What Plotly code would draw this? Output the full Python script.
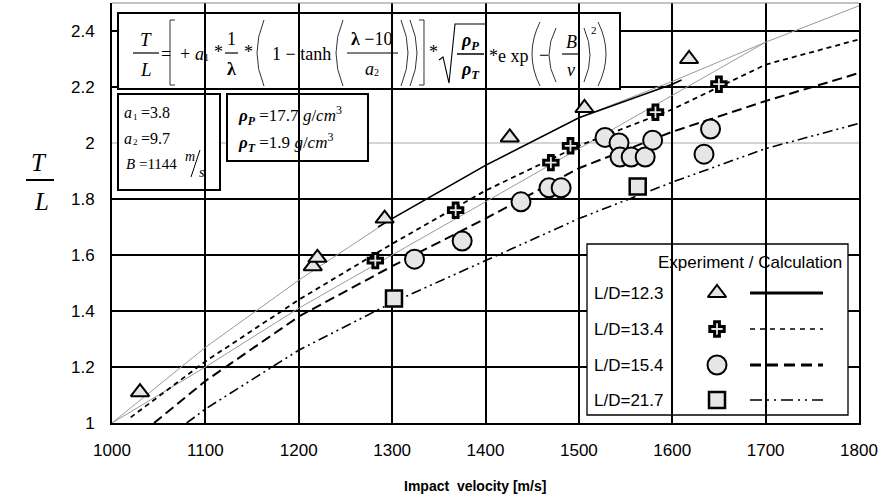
import plotly.graph_objects as go

# ---------------- data ----------------
tri_x = [1030, 1215, 1220, 1292, 1426, 1506, 1618]
tri_y = [1.11, 1.56, 1.59, 1.73, 2.02, 2.125, 2.30]
plus_x = [1282, 1368, 1470, 1491, 1582, 1650]
plus_y = [1.58, 1.76, 1.93, 1.99, 2.11, 2.21]
circ_x = [1324, 1375, 1438, 1468, 1481, 1528, 1543, 1544, 1556, 1571, 1579, 1634, 1641]
circ_y = [1.585, 1.65, 1.79, 1.84, 1.84, 2.02, 2.00, 1.95, 1.95, 1.95, 2.01, 1.96, 2.05]
sq_x = [1302, 1563]
sq_y = [1.445, 1.845]

calc123_x = [1285, 1300, 1400, 1500, 1600, 1610]
calc123_y = [1.70, 1.73, 1.92, 2.09, 2.21, 2.225]
calc134_x = [1020, 1100, 1200, 1300, 1400, 1500, 1600, 1700, 1800]
calc134_y = [1.02, 1.22, 1.44, 1.64, 1.83, 1.99, 2.12, 2.28, 2.37]
calc154_x = [1045, 1100, 1200, 1300, 1400, 1500, 1600, 1700, 1800]
calc154_y = [1.00, 1.15, 1.38, 1.56, 1.73, 1.91, 2.04, 2.15, 2.25]
calc217_x = [1080, 1100, 1200, 1300, 1400, 1500, 1600, 1700, 1800]
calc217_y = [1.00, 1.05, 1.26, 1.43, 1.58, 1.73, 1.86, 1.98, 2.07]
ref_hi_x = [1000, 1100, 1200, 1300, 1400, 1500, 1600, 1700, 1800]
ref_hi_y = [1.00, 1.27, 1.51, 1.73, 1.92, 2.09, 2.22, 2.36, 2.49]
ref_lo_x = [1000, 1100, 1200, 1400, 1600, 1700]
ref_lo_y = [1.00, 1.20, 1.41, 1.79, 2.17, 2.36]

x_ticks = [1000, 1100, 1200, 1300, 1400, 1500, 1600, 1700, 1800]
y_ticks = [1.0, 1.2, 1.4, 1.6, 1.8, 2.0, 2.2, 2.4]
y_ticklabels = ["1", "1.2", "1.4", "1.6", "1.8", "2", "2.2", "2.4"]
y_black_grid = [1.2, 1.4, 1.6, 1.8, 2.2, 2.4]
y_gray_line = 2.0

legend_labels = ["L/D=12.3", "L/D=13.4", "L/D=15.4", "L/D=21.7"]

# ---------------- layout helpers (pixel -> paper) ----------------
W, H = 883, 502
ML, MR, MT, MB = 112, 24, 3, 79
PW, PH = W - ML - MR, H - MT - MB


def PX(x):
    return (x - ML) / PW


def PY(y):
    return (H - MB - y) / PH


SERIF = "Liberation Serif, Times New Roman, serif"
SANS = "Liberation Sans, Arial, sans-serif"
FILL = "#e6e6e6"

fig = go.Figure()

# gray reference curves
fig.add_trace(go.Scatter(x=ref_lo_x, y=ref_lo_y, mode="lines",
                         line=dict(color="#9a9a9a", width=1), showlegend=False))
fig.add_trace(go.Scatter(x=ref_hi_x, y=ref_hi_y, mode="lines",
                         line=dict(color="#9a9a9a", width=1), showlegend=False))

dash134 = "5px,4px"
dash154 = "10px,5px"
dash217 = "10px,4px,2px,4px,2px,4px"

fig.add_trace(go.Scatter(x=calc123_x, y=calc123_y, mode="lines",
                         line=dict(color="black", width=1.6), showlegend=False))
fig.add_trace(go.Scatter(x=calc134_x, y=calc134_y, mode="lines",
                         line=dict(color="black", width=1.8, dash=dash134), showlegend=False))
fig.add_trace(go.Scatter(x=calc154_x, y=calc154_y, mode="lines",
                         line=dict(color="black", width=2, dash=dash154), showlegend=False))
fig.add_trace(go.Scatter(x=calc217_x, y=calc217_y, mode="lines",
                         line=dict(color="black", width=1.6, dash=dash217), showlegend=False))

mk_line = dict(color="black", width=2)
fig.add_trace(go.Scatter(x=circ_x, y=circ_y, mode="markers",
                         marker=dict(symbol="circle", size=19, color=FILL, line=mk_line), showlegend=False))
fig.add_trace(go.Scatter(x=sq_x, y=sq_y, mode="markers",
                         marker=dict(symbol="square", size=16, color=FILL, line=dict(color="black", width=2.5)),
                         showlegend=False))
fig.add_trace(go.Scatter(x=tri_x, y=tri_y, mode="markers",
                         marker=dict(symbol="triangle-up", size=16, color=FILL, line=mk_line), showlegend=False))
fig.add_trace(go.Scatter(x=plus_x, y=plus_y, mode="markers",
                         marker=dict(symbol="cross", size=12, color=FILL, line=dict(color="black", width=3)),
                         showlegend=False))

# ---------------- hand-drawn legend (pixel overlay axes) ----------------
rows_y = [293, 329, 365, 400]
leg_marker_x = 717
leg_line_x = [750, 823]
leg_syms = [("triangle-up", 16, 2), ("cross", 12, 3), ("circle", 19, 2), ("square", 16, 2.5)]
leg_lines = [dict(color="black", width=3),
             dict(color="black", width=1.5, dash="5px,5px"),
             dict(color="black", width=3, dash="11px,6px"),
             dict(color="black", width=1.6, dash="12px,5px,2px,5px,2px,5px")]
for i, ry in enumerate(rows_y):
    s, sz, lw = leg_syms[i]
    fig.add_trace(go.Scatter(x=[leg_marker_x], y=[ry], xaxis="x2", yaxis="y2", mode="markers",
                             marker=dict(symbol=s, size=sz, color=FILL, line=dict(color="black", width=lw)),
                             showlegend=False, hoverinfo="skip"))
    fig.add_trace(go.Scatter(x=leg_line_x, y=[ry, ry], xaxis="x2", yaxis="y2", mode="lines",
                             line=leg_lines[i], showlegend=False, hoverinfo="skip"))

shapes = []
annotations = []


def rect(x0, y0, x1, y1, lw=2):
    shapes.append(dict(type="rect", xref="paper", yref="paper", x0=PX(x0), x1=PX(x1),
                       y0=PY(y1), y1=PY(y0), line=dict(color="black", width=lw),
                       fillcolor="white", layer="between"))


def hline(x0, x1, y, lw=1.2, color="black", layer="above"):
    shapes.append(dict(type="line", xref="paper", yref="paper", x0=PX(x0), x1=PX(x1),
                       y0=PY(y), y1=PY(y), line=dict(color=color, width=lw), layer=layer))


def poly(points, lw=1.0, color="black"):
    d = "M " + " L ".join(f"{PX(a):.5f},{PY(b):.5f}" for a, b in points)
    shapes.append(dict(type="path", xref="paper", yref="paper", path=d,
                       line=dict(color=color, width=lw), layer="above"))


def paren(x_end, apex_x, y0, y1, lw=1.0, color="#333333"):
    ym = (y0 + y1) / 2
    cx = 2 * apex_x - x_end
    d = (f"M {PX(x_end):.5f},{PY(y0):.5f} Q {PX(cx):.5f},{PY(ym):.5f} "
         f"{PX(x_end):.5f},{PY(y1):.5f}")
    shapes.append(dict(type="path", xref="paper", yref="paper", path=d,
                       line=dict(color=color, width=lw), layer="above"))


def txt(t, x, y, size=18, family=SERIF, anchor="center", color="black"):
    annotations.append(dict(text=t, x=PX(x), y=PY(y), xref="paper", yref="paper",
                            showarrow=False, xanchor=anchor, yanchor="middle",
                            font=dict(family=family, size=size, color=color)))


# horizontal grid (black) + gray line at 2.0
for gy in y_black_grid:
    shapes.append(dict(type="line", xref="paper", yref="y", x0=0, x1=1, y0=gy, y1=gy,
                       line=dict(color="black", width=2), layer="below"))
shapes.append(dict(type="line", xref="paper", yref="y", x0=0, x1=1, y0=y_gray_line, y1=y_gray_line,
                   line=dict(color="#a8a8a8", width=1.2), layer="below"))
# top border (thin gray)
shapes.append(dict(type="line", xref="paper", yref="paper", x0=0, x1=1, y0=1, y1=1,
                   line=dict(color="#888888", width=1), layer="above"))

# ---------------- formula box ----------------
rect(118, 13, 620, 89)
mid, num, den, bar = 54, 39, 69, 53
txt("<i>T</i>", 146, num, 19)
hline(133, 159, bar, 1.2)
txt("<i>L</i>", 146, den, 19)
txt("=", 166, mid, 18)
poly([(175, 20), (170, 20), (170, 85), (175, 85)], 1.0, "#333333")
txt("+", 185, mid, 18)
txt("<i>a</i>", 199, mid, 18)
txt("1", 206, mid + 4, 10)
txt("*", 218, mid - 2, 18)
txt("1", 231, num, 18)
hline(225, 238, bar, 1.2)
txt("<b>λ</b>", 231, den, 18)
txt("*", 248, mid - 2, 18)
paren(264, 257, 20, 86)
txt("1 − tanh", 301, mid, 18)
paren(343, 336, 20, 86)
txt("<b>λ</b> −10", 372, num, 18)
hline(347, 398, bar, 1.2)
txt("<i>a</i>", 369, den, 18)
txt("2", 376, den + 4, 10)
paren(401, 408, 20, 86)
paren(410, 417, 20, 86)
poly([(419, 20), (424, 20), (424, 85), (419, 85)], 1.0, "#333333")
txt("*", 433, mid - 2, 18)
poly([(439, 60), (443, 57), (449, 83), (455, 24), (485, 24)], 1.1)
txt("<b><i>ρ</i></b><sub><b><i>P</i></b></sub>", 470, num + 2, 18)
hline(457, 484, bar + 1, 1.5)
txt("<b><i>ρ</i></b><sub><b><i>T</i></b></sub>", 470, den + 1, 18)
txt("*e xp", 487, mid + 2, 18, anchor="left")
paren(540, 532, 22, 86)
txt("−", 544, mid + 1, 18)
paren(556, 549, 28, 82)
txt("<i>B</i>", 571, num + 3, 18)
hline(562, 580, bar + 1, 1.2)
txt("<i>v</i>", 571, den + 1, 18)
paren(584, 590, 28, 82)
txt("2", 594, 30, 11)
paren(598, 606, 22, 86)

# ---------------- parameter boxes ----------------
rect(118, 94, 220, 190)
txt("<i>a</i>", 128, 113, 16)
txt("1", 135, 117, 9)
txt("=3.8", 139, 113, 16, anchor="left")
txt("<i>a</i>", 128, 138, 16)
txt("2", 135, 142, 9)
txt("=9.7", 139, 138, 16, anchor="left")
txt("<i>B</i> =1144", 124, 164, 15, anchor="left")
txt("<i>m</i>", 190, 156, 14)
poly([(191, 177), (200, 150)], 1.0)
txt("<i>s</i>", 202, 172, 14)

rect(227, 94, 368, 161)
txt("<b><i>ρ</i></b><sub><b><i>P</i></b></sub> =17.7 <i>g</i>/<i>cm</i><sup>3</sup>", 236, 115, 17, anchor="left")
txt("<b><i>ρ</i></b><sub><b><i>T</i></b></sub> =1.9 <i>g</i>/<i>cm</i><sup>3</sup>", 236, 142, 17, anchor="left")

# ---------------- legend box ----------------
rect(587, 244, 848, 415, 1.3)
txt("Experiment / Calculation", 844, 262, 17, SANS, anchor="right")
for lab, ry in zip(legend_labels, rows_y):
    txt(lab, 592, ry, 17, SANS, anchor="left")

# ---------------- axis titles ----------------
txt("<i>T</i>", 39, 162, 25)
hline(26, 54, 180, 2)
txt("<i>L</i>", 41, 201, 25)
txt("<b>Impact\u00a0 velocity [m/s]</b>", 475, 486, 14, SANS)

fig.update_layout(
    width=W, height=H,
    margin=dict(l=ML, r=MR, t=MT, b=MB, pad=0),
    paper_bgcolor="white", plot_bgcolor="white",
    showlegend=False,
    shapes=shapes, annotations=annotations,
    xaxis=dict(range=[1000, 1800], tickvals=x_ticks, showgrid=True, gridcolor="black", gridwidth=2,
               zeroline=False, showline=True, linecolor="black", linewidth=2, mirror=False,
               ticks="", ticklabelstandoff=11,
               tickfont=dict(family=SANS, size=17, color="black")),
    yaxis=dict(range=[1, 2.5], tickvals=y_ticks, ticktext=y_ticklabels, showgrid=False,
               zeroline=False, showline=True, linecolor="black", linewidth=2, mirror=True,
               ticks="", ticklabelstandoff=12,
               tickfont=dict(family=SANS, size=17, color="black")),
    xaxis2=dict(range=[ML, W - MR], overlaying="x", visible=False, fixedrange=True),
    yaxis2=dict(range=[H - MB, MT], overlaying="y", visible=False, fixedrange=True),
)

fig.write_html("out.html", config={"displayModeBar": False},
               post_script="document.body.style.margin='0';document.body.style.overflow='hidden';")
